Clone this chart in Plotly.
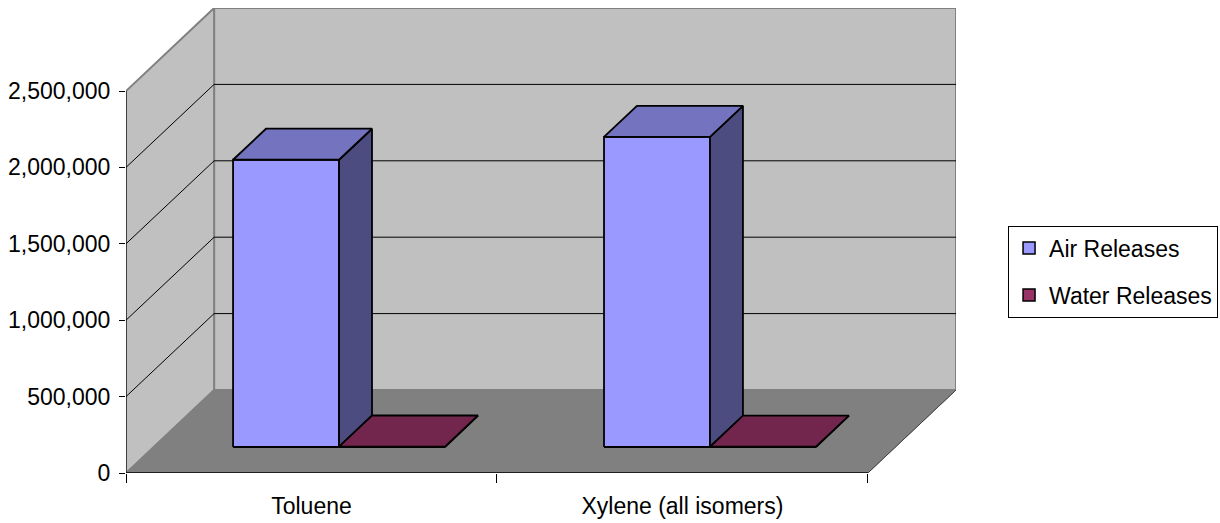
import plotly.graph_objects as go

# ---------------- data ----------------
categories = ["Toluene", "Xylene (all isomers)"]
series_names = ["Air Releases", "Water Releases"]
air_releases = [1880000, 2030000]
water_releases = [3000, 2000]
y_tick_values = [0, 500000, 1000000, 1500000, 2000000, 2500000]

# ---------------- style / projection ----------------
FRONT = ["#9999FF", "#993366"]
TOP = ["#7373BF", "#73264D"]
SIDE = ["#4C4C80", "#4D1A33"]
WALL = "#C0C0C0"
FLOOR = "#808080"
FONT = "Liberation Sans, Arial, sans-serif"

YMAX = y_tick_values[-1]
DEPTH_X = 0.2375          # oblique depth offset in category units
DEPTH_Y = 543200          # oblique depth offset in value units
GAP = 1.5                 # gap width (150 %)
D0, D1 = 0.313, 0.687     # bar depth band inside the floor

n_cat = len(categories)
n_ser = len(series_names)


def P(x, v, d):
    return x + d * DEPTH_X, v + d * DEPTH_Y


def path(points):
    s = "M " + " L ".join(f"{x},{y}" for x, y in points) + " Z"
    return s


shapes = []
# back wall
shapes.append(dict(type="path", layer="below", xref="x", yref="y",
                   path=path([P(0, 0, 1), P(n_cat, 0, 1), P(n_cat, YMAX, 1), P(0, YMAX, 1)]),
                   fillcolor=WALL, line=dict(color="#808080", width=2)))
# left wall
shapes.append(dict(type="path", layer="below", xref="x", yref="y",
                   path=path([P(0, 0, 0), P(0, 0, 1), P(0, YMAX, 1), P(0, YMAX, 0)]),
                   fillcolor=WALL, line=dict(color="#808080", width=2)))
# floor
shapes.append(dict(type="path", layer="below", xref="x", yref="y",
                   path=path([P(0, 0, 0), P(n_cat, 0, 0), P(n_cat, 0, 1), P(0, 0, 1)]),
                   fillcolor=FLOOR, line=dict(color=FLOOR, width=1)))
# floor right edge
x0_, y0_ = P(n_cat, 0, 0)
x1_, y1_ = P(n_cat, 0, 1)
shapes.append(dict(type="line", layer="below", xref="x", yref="y",
                   x0=x0_, y0=y0_, x1=x1_, y1=y1_, line=dict(color="#404040", width=1)))
# gridlines on walls
for v in y_tick_values[1:-1]:
    a = P(0, v, 0)
    b = P(0, v, 1)
    c = P(n_cat, v, 1)
    shapes.append(dict(type="line", layer="below", xref="x", yref="y",
                       x0=a[0], y0=a[1], x1=b[0], y1=b[1], line=dict(color="black", width=1)))
    shapes.append(dict(type="line", layer="below", xref="x", yref="y",
                       x0=b[0], y0=b[1], x1=c[0], y1=c[1], line=dict(color="black", width=1)))
# axis lines
shapes.append(dict(type="line", layer="above", xref="x", yref="y",
                   x0=0, y0=0, x1=0, y1=YMAX, line=dict(color="black", width=1)))
shapes.append(dict(type="line", layer="above", xref="x", yref="y",
                   x0=0, y0=0, x1=n_cat, y1=0, line=dict(color="black", width=1.5)))

fig = go.Figure()

values = [air_releases, water_releases]
bw = 1.0 / (n_ser + GAP)
for i in range(n_cat):
    for j in range(n_ser):
        v = values[j][i]
        x0 = i + (GAP / 2) * bw + j * bw
        x1 = x0 + bw
        faces = [
            ([P(x0, 0, D0), P(x1, 0, D0), P(x1, v, D0), P(x0, v, D0)], FRONT[j]),
            ([P(x1, 0, D0), P(x1, 0, D1), P(x1, v, D1), P(x1, v, D0)], SIDE[j]),
            ([P(x0, v, D0), P(x1, v, D0), P(x1, v, D1), P(x0, v, D1)], TOP[j]),
        ]
        for pts, col in faces:
            xs = [p[0] for p in pts] + [pts[0][0]]
            ys = [p[1] for p in pts] + [pts[0][1]]
            fig.add_trace(go.Scatter(x=xs, y=ys, mode="lines", fill="toself",
                                     fillcolor=col, line=dict(color="black", width=1.8),
                                     hoverinfo="skip", showlegend=False))

# legend entries
for j, name in enumerate(series_names):
    fig.add_trace(go.Scatter(x=[None], y=[None], mode="markers", name=name,
                             legendgroup=name,
                             marker=dict(symbol="square", size=12, color=FRONT[j],
                                         line=dict(color="black", width=1.5))))

fig.update_layout(
    width=1220, height=523,
    margin=dict(l=126, r=264, t=8, b=50, autoexpand=False),
    paper_bgcolor="white", plot_bgcolor="white",
    font=dict(family=FONT, size=23, color="black"),
    shapes=shapes,
    showlegend=True,
    legend=dict(x=1.0627, y=0.532, xanchor="left", yanchor="top",
                bordercolor="black", borderwidth=1, bgcolor="white",
                font=dict(family=FONT, size=23, color="black"),
                tracegroupgap=14, itemwidth=30),
    xaxis=dict(range=[0, n_cat + DEPTH_X], showgrid=False, zeroline=False, showline=False,
               automargin=False,
               tickmode="array", tickvals=[i + 0.5 for i in range(n_cat)], ticktext=categories,
               ticks="outside", ticklen=12, tickcolor="rgba(0,0,0,0)",
               minor=dict(tickmode="array", tickvals=list(range(n_cat + 1)), ticks="outside",
                          ticklen=9, tickcolor="black", tickwidth=1, showgrid=False),
               fixedrange=True),
    yaxis=dict(range=[0, YMAX + DEPTH_Y], showgrid=False, zeroline=False, showline=False,
               automargin=False,
               tickmode="array", tickvals=y_tick_values, tickformat=",d",
               ticks="outside", ticklen=6, tickcolor="black", tickwidth=1,
               ticklabelstandoff=4, fixedrange=True),
)

fig.write_html("out.html")
